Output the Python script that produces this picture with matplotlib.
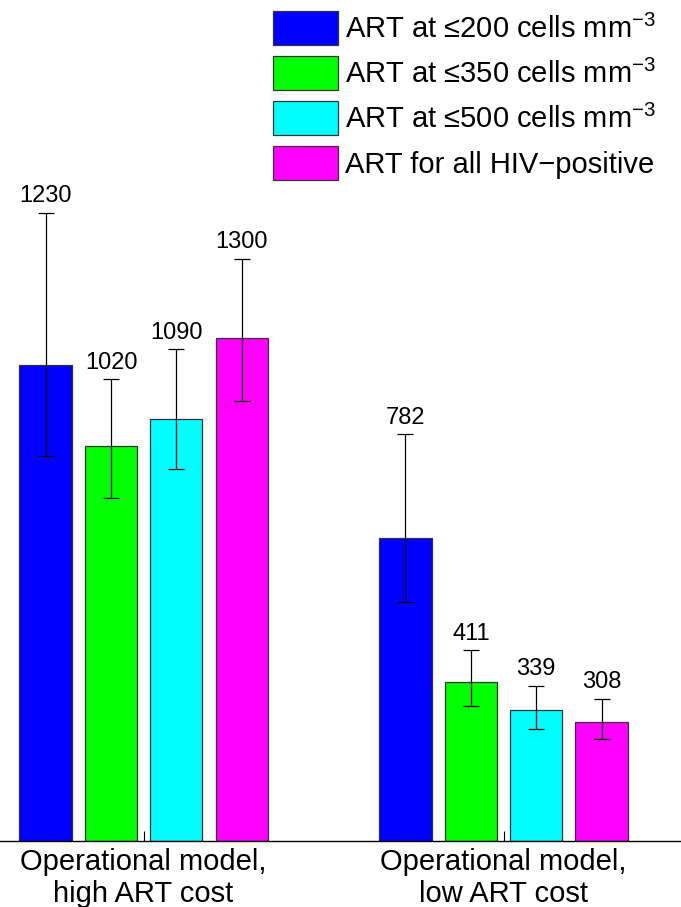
import numpy as np
import matplotlib
matplotlib.use("Agg")
import matplotlib.pyplot as plt

plt.rcParams['font.family'] = ['Liberation Sans', 'DejaVu Sans']
plt.rcParams['mathtext.fontset'] = 'custom'
plt.rcParams['mathtext.rm'] = 'Liberation Sans'
plt.rcParams['mathtext.it'] = 'Liberation Sans'

# data
groups = ["Operational model,\nhigh ART cost", "Operational model,\nlow ART cost"]
series = ["ART at \u2264200 cells mm$^{-3}$",
          "ART at \u2264350 cells mm$^{-3}$",
          "ART at \u2264500 cells mm$^{-3}$",
          "ART for all HIV\u2212positive"]
values = [[1230, 782], [1020, 411], [1090, 339], [1300, 308]]
err_low = [[996, 617], [886, 348], [962, 289], [1137, 262]]
err_high = [[1625, 1051], [1194, 493], [1271, 401], [1506, 367]]
colors = ["#0000ff", "#00ff00", "#00ffff", "#ff00ff"]

fig = plt.figure(figsize=(6.81, 9.07), dpi=100)
ax = fig.add_axes([0, 1 - 840.7 / 907, 1, 840.7 / 907])

x = np.array([1, 2])
offsets = [-0.2725, -0.0906, 0.0906, 0.2725]
width = 0.1453

for i in range(4):
    xs = x + offsets[i]
    v = np.array(values[i])
    lo = v - np.array(err_low[i])
    hi = np.array(err_high[i]) - v
    ax.bar(xs, v, width, color=colors[i], edgecolor="#333333", linewidth=0.9,
           label=series[i], zorder=2)
    ax.errorbar(xs, v, yerr=[lo, hi], fmt="none", ecolor="black",
                elinewidth=0.9, capsize=5.5, capthick=0.9, zorder=3)
    for xx, val, top in zip(xs, values[i], err_high[i]):
        ax.annotate(str(val), (xx, top), xytext=(0, 7.5), textcoords="offset points",
                    ha="center", va="baseline", fontsize=17)

ax.set_xlim(0.601, 2.493)
ax.set_ylim(0, 2175)
ax.set_xticks(x)
ax.set_xticklabels(groups, fontsize=21, linespacing=1.2)
ax.tick_params(axis="x", direction="in", length=7, width=0.8, pad=5)
ax.set_yticks([])
for s in ["top", "left", "right"]:
    ax.spines[s].set_visible(False)
ax.spines["bottom"].set_linewidth(1.0)

ax.legend(loc="upper left", bbox_to_anchor=(273 / 681, 1 - 11 / 907),
          bbox_transform=fig.transFigure, frameon=False, fontsize=21,
          handlelength=2.23, handleheight=1.4, handletextpad=0.25,
          labelspacing=0.39, borderpad=0, borderaxespad=0)

fig.savefig("out.png", dpi=100)
